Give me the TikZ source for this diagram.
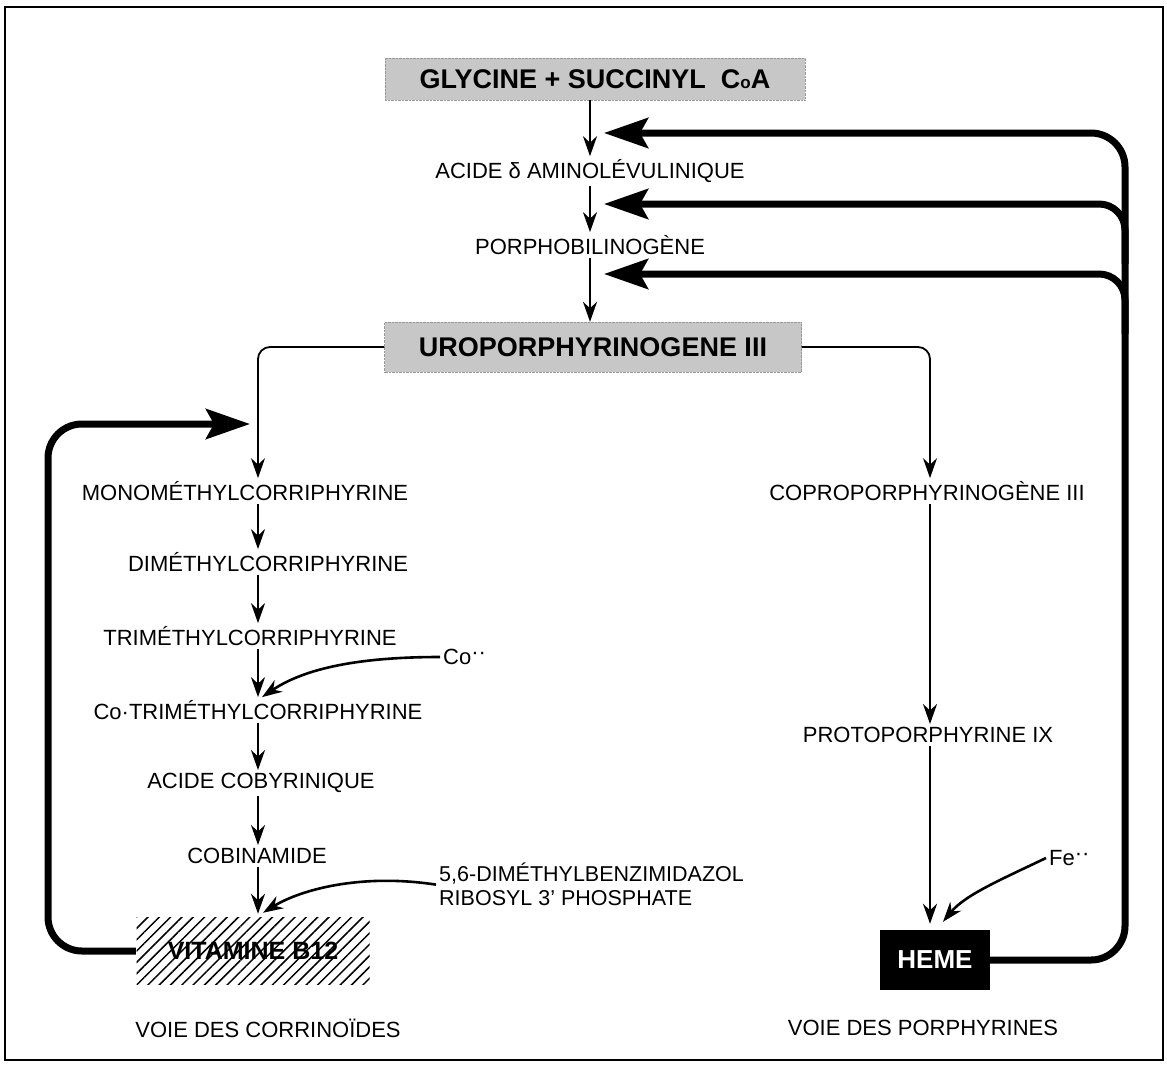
\documentclass[tikz,border=0pt]{standalone}
\usepackage{fontspec}
\setmainfont{Liberation Sans}
\usetikzlibrary{arrows.meta,positioning,patterns.meta}

\begin{document}
\begin{tikzpicture}[x=1pt,y=-1pt,
  every node/.style={font=\fontsize{22}{26}\selectfont,inner sep=3pt},
  greybox/.style={fill=black!22,draw=black!40,densely dotted,inner sep=0pt,
    font=\fontsize{27}{30}\selectfont\bfseries},
  flow/.style={line width=2.6pt,-{Stealth[length=20pt,width=14pt]}},
  branch/.style={line width=1.8pt,rounded corners=12pt,-{Stealth[length=20pt,width=14pt]}},
  heavy/.style={line width=7pt,rounded corners=34pt,-{Stealth[length=44pt,width=30pt,inset=8pt]}}]
  \useasboundingbox (0,0) rectangle (1167,1065);
  \draw[line width=1.4pt] (5,7) rectangle (1163,1060);

  % columns and free ends of the return loops
  \coordinate (colL) at (258,0);
  \coordinate (colR) at (930,0);
  \coordinate (trunk) at (1125,0);
  \coordinate (back1) at (604,133);
  \coordinate (back2) at (604,204);
  \coordinate (back3) at (604,274);
  \coordinate (loopx) at (48,0);
  \coordinate (loop) at (250,424);

  % common trunk
  \node[greybox,minimum width=420,minimum height=42] (gly) at (595,79)
    {GLYCINE + SUCCINYL \ C{\fontsize{17}{17}\selectfont o}A};
  \node (ala) at (590,171) {ACIDE δ AMINOLÉVULINIQUE};
  \node (pbg) at (590,245) {PORPHOBILINOGÈNE};
  \node[greybox,minimum width=417,minimum height=50] (uro) at (593,347)
    {UROPORPHYRINOGENE III};

  % corrinoids
  \node (mono) at (245,491) {MONOMÉTHYLCORRIPHYRINE};
  \node (dim) at (268,562) {DIMÉTHYLCORRIPHYRINE};
  \node (tri) at (250,636) {TRIMÉTHYLCORRIPHYRINE};
  \node (cotri) at (258,710) {Co·TRIMÉTHYLCORRIPHYRINE};
  \node (cob) at (261,783) {ACIDE COBYRINIQUE};
  \node (cbn) at (257,856) {COBINAMIDE};
  \node[minimum width=233,minimum height=67,inner sep=0pt,
    pattern={Lines[angle=45,distance=8pt,line width=1.5pt]},
    font=\fontsize{25}{28}\selectfont\bfseries] (vit) at (253,951) {VITAMINE B12};
  \node[anchor=west] (co) at (440,657) {Co\raisebox{0.45ex}{··}};
  \node[anchor=north west,align=left,font=\fontsize{21.5}{24}\selectfont] (dmb) at (436,860)
    {5,6-DIMÉTHYLBENZIMIDAZOL\\RIBOSYL 3’ PHOSPHATE};

  % porphyrins
  \node (copro) at (927,491) {COPROPORPHYRINOGÈNE III};
  \node (proto) at (928,735) {PROTOPORPHYRINE IX};
  \node[fill=black,minimum width=110,minimum height=60,inner sep=0pt,
    text=white,font=\fontsize{26}{30}\selectfont\bfseries] (heme) at (935,960) {HEME};
  \node[anchor=west] (fe) at (1046,858) {Fe\raisebox{0.45ex}{··}};

  \node (vcor) at (268,1028) {VOIE DES CORRINOÏDES};
  \node (vpor) at (923,1028) {VOIE DES PORPHYRINES};

  % main steps
  \draw[flow] (gly.south -| ala) -- (ala);
  \draw[flow] (ala) -- (pbg);
  \draw[flow] (pbg) -- (uro.north -| pbg);
  \draw[branch] (uro.west) -| (mono.north -| colL);
  \draw[branch] (uro.east) -| (copro.north -| colR);
  \draw[flow] (mono.south -| colL) -- (dim.north -| colL);
  \draw[flow] (dim.south -| colL) -- (tri.north -| colL);
  \draw[flow] (tri.south -| colL) -- (cotri.north -| colL);
  \draw[flow] (cotri.south -| colL) -- (cob.north -| colL);
  \draw[flow] (cob.south -| colL) -- (cbn.north -| colL);
  \draw[flow] (cbn.south -| colL) -- ([yshift=3]vit.north -| colL);
  \draw[flow] (copro.south -| colR) -- (proto.north -| colR);
  \draw[flow] (proto.south -| colR) -- ([yshift=6]heme.north -| colR);

  % cofactors
  \draw[flow] (co.west) .. controls (360,657) and (305,668) .. ([xshift=4]cotri.north -| colL);
  \draw[flow] (dmb.west) .. controls (360,873) and (300,890) .. ([xshift=5,yshift=4]vit.north -| colL);
  \draw[flow] (fe.west) .. controls (1000,880) and (965,895) .. ([xshift=8,yshift=8]heme.north);

  % feedback
  \draw[heavy] (heme.east) -- (heme.east -| trunk) -- (trunk |- back1) -- (back1);
  \draw[heavy,rounded corners=26pt] ([yshift=-60]trunk |- back2) -- (trunk |- back2) -- (back2);
  \draw[heavy,rounded corners=26pt] ([yshift=-60]trunk |- back3) -- (trunk |- back3) -- (back3);
  \draw[heavy] (vit.west) -- (vit.west -| loopx) -- (loopx |- loop) -- (loop);
\end{tikzpicture}
\end{document}
